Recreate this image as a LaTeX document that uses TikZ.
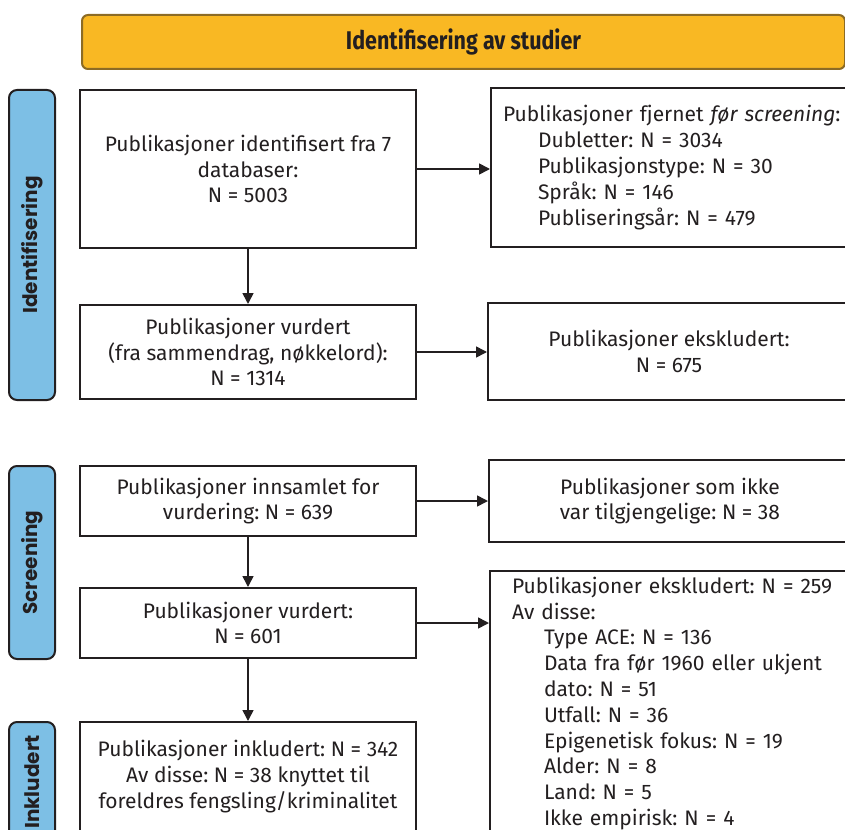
\documentclass[tikz,border=0pt]{standalone}
\usepackage{fontspec}
\setmainfont{Fira Sans}
\newfontfamily\sidefont{Poppins}
\newfontfamily\headfont{Fira Sans}[FakeStretch=0.84]
\usetikzlibrary{arrows.meta}
\definecolor{ink}{HTML}{231F20}
\definecolor{bannerfill}{HTML}{F9B823}
\definecolor{bannerline}{HTML}{8C6B25}
\definecolor{sideblue}{HTML}{7DBFE5}
\frenchspacing

\begin{document}
\begin{tikzpicture}[x=0.5pt,y=0.5pt]
\tikzstyle{every node}+=[text=ink, font=\fontsize{10.5}{12.9}\selectfont]
\tikzstyle{box}=[draw=ink, line width=1pt, fill=white, align=center, inner sep=0pt]
\tikzstyle{listbox}=[draw=ink, line width=1pt, fill=white, align=left, inner xsep=6pt, inner ysep=0pt]
\tikzstyle{side}=[draw=ink, line width=1pt, fill=sideblue, rounded corners=4pt, minimum height=23pt, inner sep=0pt, rotate=90, font=\sidefont\bfseries\fontsize{10}{12}\selectfont]
\tikzstyle{banner}=[draw=bannerline, line width=1pt, fill=bannerfill, rounded corners=3pt, minimum height=27pt, font=\headfont\bfseries\fontsize{12.8}{14}\selectfont]
\tikzstyle{flow}=[draw=ink, line width=0.8pt, -{Triangle[length=5.5pt,width=5.5pt]}]

\useasboundingbox (0,0) rectangle (845,-829);
\clip (0,0) rectangle (845,-829);

\node[banner, minimum width=381.5pt] (head) at (463.5,-42) {Identifisering av studier};

\node[side, minimum width=155pt] (sid1) at (32,-245) {Identifisering};
\node[side, minimum width=96.5pt] (sid2) at (32,-562.5) {Screening};
\node[side, minimum width=60pt] (sid3) at (32,-782) {Inkludert};

\node[box, minimum width=168pt, minimum height=79pt] (ident) at (248,-169)
  {Publikasjoner identifisert fra 7\\databaser:\\N = 5003};
\node[box, minimum width=168pt, minimum height=47pt] (vurd) at (248,-352)
  {Publikasjoner vurdert\\(fra sammendrag, nøkkelord):\\N = 1314};
\node[box, minimum width=168pt, minimum height=35pt] (innsaml) at (248,-501)
  {Publikasjoner innsamlet for\\vurdering: N = 639};
\node[box, minimum width=168pt, minimum height=35pt] (vurd2) at (248,-623)
  {Publikasjoner vurdert:\\N = 601};
\node[box, minimum width=168pt, minimum height=54.5pt] (inkl) at (248,-776.5)
  {Publikasjoner inkludert: N = 342\\Av disse: N = 38 knyttet til\\foreldres fengsling/kriminalitet};

\node[listbox, anchor=west, text width=173pt, minimum height=79.5pt] (fjernet) at (490,-167.5)
  {Publikasjoner fjernet \textit{før screening}:\\
   \hspace*{17.5pt}Dubletter: N = 3034\\
   \hspace*{17.5pt}Publikasjonstype: N = 30\\
   \hspace*{17.5pt}Språk: N = 146\\
   \hspace*{17.5pt}Publiseringsår: N = 479};
\node[box, minimum width=181pt, minimum height=48.5pt] (ekskl) at (669,-351.5)
  {Publikasjoner ekskludert:\\N = 675};
\node[box, minimum width=181pt, minimum height=41pt] (ikketilg) at (670,-501)
  {Publikasjoner som ikke\\var tilgjengelige: N = 38};
\node[listbox, anchor=north west, inner xsep=11pt, inner ysep=3pt, text width=170pt] (ekskl2) at (489,-570)
  {Publikasjoner ekskludert: N = 259\\
   Av disse:\\
   \hspace*{16pt}Type ACE: N = 136\\
   \hspace*{16pt}Data fra før 1960 eller ukjent\\
   \hspace*{16pt}dato: N = 51\\
   \hspace*{16pt}Utfall: N = 36\\
   \hspace*{16pt}Epigenetisk fokus: N = 19\\
   \hspace*{16pt}Alder: N = 8\\
   \hspace*{16pt}Land: N = 5\\
   \hspace*{16pt}Ikke empirisk: N = 4\\[6pt]};

\draw[flow] (ident) -- (vurd);
\draw[flow] (innsaml) -- (vurd2);
\draw[flow] (vurd2) -- (inkl);
\draw[flow] (ident.east) -- (ident.east -| fjernet.west);
\draw[flow] (vurd.east) -- (vurd.east -| ekskl.west);
\draw[flow] (innsaml.east) -- (innsaml.east -| ikketilg.west);
\draw[flow] (vurd2.east) -- (vurd2.east -| ekskl2.west);
\end{tikzpicture}
\end{document}
